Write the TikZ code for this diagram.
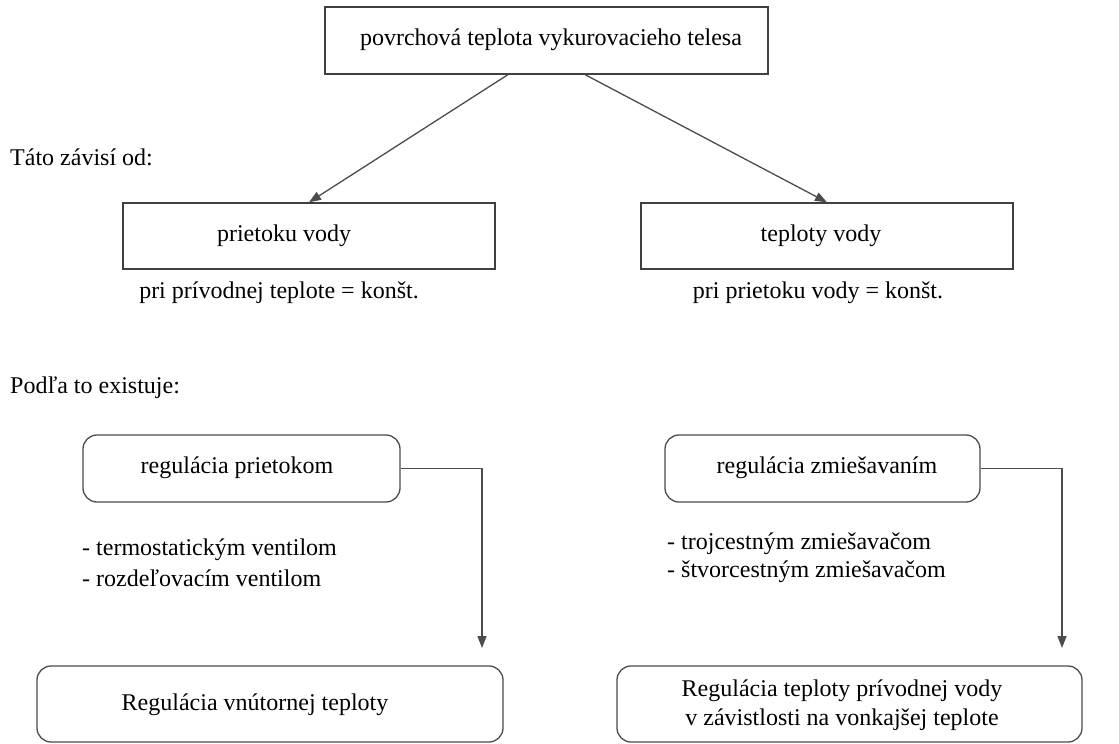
\documentclass[tikz,border=0pt]{standalone}
\usepackage{fontspec}
\setmainfont{Liberation Serif}
\usetikzlibrary{arrows.meta,calc}
\begin{document}
\begin{tikzpicture}[x=1pt,y=-1pt,
  every node/.style={font=\rmfamily\fontsize{24}{29}\selectfont, inner sep=0pt, text=black},
  sqbox/.style={draw=black!75, line width=1.4pt, rectangle},
  rndbox/.style={draw=black!70, line width=1.3pt, rectangle, rounded corners=14pt},
  arr/.style={draw=black!70, line width=1.3pt, -{Triangle[length=12pt,width=9pt]}}]
\useasboundingbox[fill=white] (0,0) rectangle (1119,744);

% boxes
\node[sqbox, minimum width=443pt, minimum height=67pt] (top) at (546.5,40.5) {};
\node (toptxt) at (551,40) {povrchová teplota vykurovacieho telesa};

\node[sqbox, minimum width=372pt, minimum height=66pt] (b1) at (309,236) {};
\node (b1txt) at (284,236) {prietoku vody};
\node[sqbox, minimum width=372pt, minimum height=66pt] (b2) at (827,236) {};
\node (b2txt) at (821,236) {teploty vody};

\node[rndbox, minimum width=317pt, minimum height=67pt] (r1) at (241.5,468.5) {};
\node (r1txt) at (237,468) {regulácia prietokom};
\node[rndbox, minimum width=315pt, minimum height=67pt] (r2) at (822.5,468.5) {};
\node (r2txt) at (827,468) {regulácia zmiešavaním};

\node[rndbox, minimum width=466pt, minimum height=76pt] (r3) at (270,704) {};
\node (r3txt) at (255,705) {Regulácia vnútornej teploty};
\node[rndbox, minimum width=465pt, minimum height=76pt] (r4) at (849.5,704) {};
\node[align=center] (r4txt) at (842,705) {Regulácia teploty prívodnej vody\\v závistlosti na vonkajšej teplote};

% free texts
\node[anchor=west] (t1) at (10,157) {Táto závisí od:};
\node (t2) at (279,293) {pri prívodnej teplote = konšt.};
\node (t3) at (818,293) {pri prietoku vody = konšt.};
\node[anchor=west] (t4) at (10,388) {Podľa to existuje:};
\node[anchor=west] (l1) at (82,550) {- termostatickým ventilom};
\node[anchor=west] (l2) at (82,578) {- rozdeľovacím ventilom};
\node[anchor=west] (l3) at (667,544) {- trojcestným zmiešavačom};
\node[anchor=west] (l4) at (667,572) {- štvorcestným zmiešavačom};

% connectors
\draw[arr] ($(top.south west)!0.413!(top.south east)$) -- (b1.north);
\draw[arr] ($(top.south west)!0.587!(top.south east)$) -- (b2.north);
\coordinate (e1) at (482,648);
\coordinate (e2) at (1062,648);
\draw[arr] (r1.east) -| (e1);
\draw[arr] (r2.east) -| (e2);
\end{tikzpicture}
\end{document}
